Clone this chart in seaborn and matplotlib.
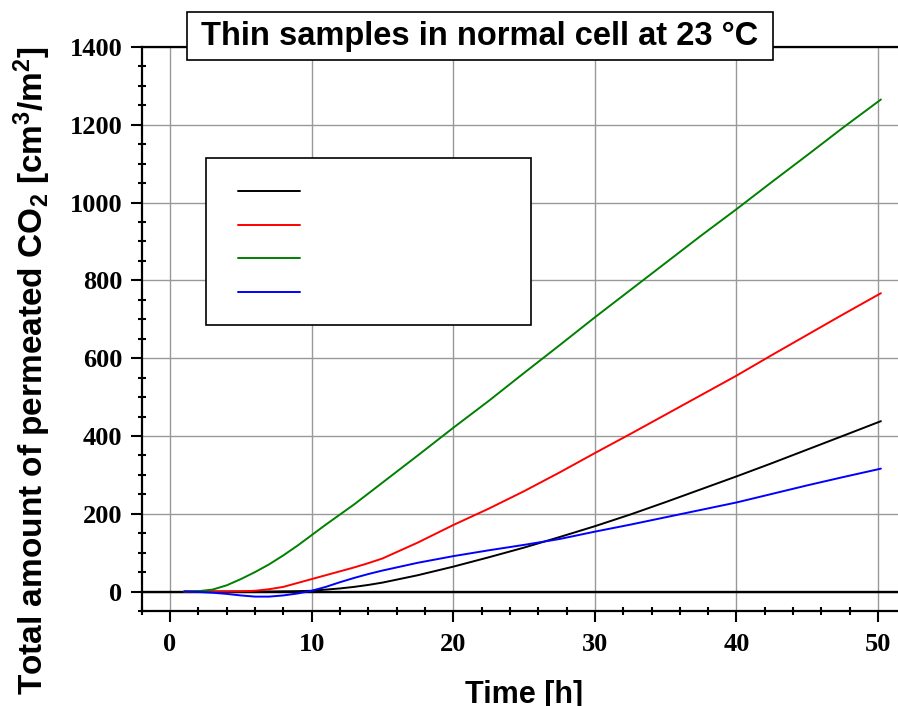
import numpy as np
import pandas as pd
import matplotlib
matplotlib.use("Agg")
import matplotlib.pyplot as plt
import seaborn as sns
from matplotlib.ticker import MultipleLocator
from matplotlib.patches import Rectangle

# values
time_h = [1, 2, 3, 4, 5, 6, 7, 8, 9, 10, 11, 12, 13, 14, 15, 17.5, 20, 22.5, 25,
          27.5, 30, 32.5, 35, 37.5, 40, 42.5, 45, 47.5, 50.2]
black_vals = [0, 0, 0, 0, 0, 0, 0, 0.5, 1, 2, 5, 8, 12, 17, 23, 42, 64, 88, 113,
              140, 168, 198, 230, 263, 296, 330, 365, 400, 438]
red_vals = [0, 0, 0, 0, 0.5, 2, 6, 12, 22, 32, 42, 52, 62, 73, 85, 126, 171, 213, 258,
            306, 356, 405, 455, 505, 555, 608, 660, 712, 767]
green_vals = [0, 1, 5, 16, 32, 50, 70, 93, 118, 145, 172, 198, 224, 252, 280, 350, 421,
              490, 562, 633, 705, 775, 845, 915, 983, 1053, 1122, 1192, 1265]
blue_vals = [0, -1, -3, -6, -10, -13, -13, -10, -5, 2, 12, 24, 35, 45, 54, 74, 91, 106,
             120, 135, 154, 172, 191, 210, 229, 251, 273, 294, 316]

series = {"black": black_vals, "red": red_vals, "green": green_vals, "blue": blue_vals}
colors = {"black": "#000000", "red": "#ff0000", "green": "#008000", "blue": "#0000ff"}

df = pd.concat([pd.DataFrame({"time": time_h, "value": v, "sample": k})
                for k, v in series.items()], ignore_index=True)

sns.set_style("white")
plt.rcParams["font.family"] = ["Liberation Serif", "DejaVu Serif"]
plt.rcParams["text.color"] = "black"
plt.rcParams["mathtext.default"] = "regular"

W, H = 898, 706
fig = plt.figure(figsize=(W / 100, H / 100), dpi=100)
# axes: left spine at x=-2 (px 141.7), right edge beyond the picture
ax = fig.add_axes([141.7 / W, 95 / H, 764.7 / W, 564 / H])

ax.axhline(0, color="black", lw=1.7, zorder=3)
sns.lineplot(data=df, x="time", y="value", hue="sample", palette=colors,
             lw=1.4, ax=ax, legend=False, zorder=4)

ax.set_xlim(-2, 52)
ax.set_ylim(-50, 1400)
ax.xaxis.set_major_locator(MultipleLocator(10))
ax.xaxis.set_minor_locator(MultipleLocator(2))
ax.yaxis.set_major_locator(MultipleLocator(200))
ax.yaxis.set_minor_locator(MultipleLocator(50))
ax.grid(True, which="major", color="#999999", lw=1)
ax.set_axisbelow(True)

for s in ["left", "bottom", "top"]:
    ax.spines[s].set_color("black")
    ax.spines[s].set_linewidth(1.6)
ax.spines["right"].set_visible(False)

ax.tick_params(which="both", bottom=True, left=True, top=False, right=False)
ax.tick_params(which="major", direction="out", length=8, width=1.5,
               labelsize=19, colors="black", pad=6)
ax.tick_params(which="minor", direction="inout", length=6, width=1.5, colors="black")
ax.tick_params(axis="x", which="major", pad=8)
for lab in ax.get_xticklabels() + ax.get_yticklabels():
    lab.set_fontweight("bold")
ax.set_xlabel("")
ax.set_ylabel("")

sans = ["Liberation Sans", "DejaVu Sans"]
fig.text(32 / W, 1 - 370 / H, "Total amount of permeated CO$_2$ [cm$^3$/m$^2$]",
         rotation=90, ha="center", va="center", fontsize=24, fontweight="bold",
         family=sans)
fig.text(524 / W, 3 / H, "Time [h]", ha="center", va="baseline",
         fontsize=22, fontweight="bold", family=sans)

# title in a framed box
title_box = Rectangle((187 / W, 1 - 60 / H), (773 - 187) / W, 48 / H,
                      transform=fig.transFigure, facecolor="white",
                      edgecolor="black", lw=1.2, zorder=9)
fig.patches.append(title_box)
fig.text(480 / W, 1 - 36 / H, "Thin samples in normal cell at 23 °C",
         ha="center", va="center", fontsize=23.5, fontweight="bold", family=sans,
         zorder=10)

# legend box with empty labels
box = Rectangle((206 / W, 1 - 325 / H), (531 - 206) / W, (325 - 158) / H,
                transform=fig.transFigure, facecolor="white", edgecolor="black",
                lw=1.2, zorder=5, clip_on=False)
ax.add_patch(box)
handles = [plt.Line2D([], [], color=colors[k], lw=1.4) for k in series]
leg = ax.legend(handles, ["", "", "", ""], loc="upper left",
                bbox_to_anchor=(238 / W, 1 - 184 / H), bbox_transform=fig.transFigure,
                frameon=False, fontsize=14, handlelength=3.2, borderpad=0,
                borderaxespad=0, labelspacing=0.83, handletextpad=0)
leg.set_zorder(6)

fig.savefig("out.png", dpi=100)
